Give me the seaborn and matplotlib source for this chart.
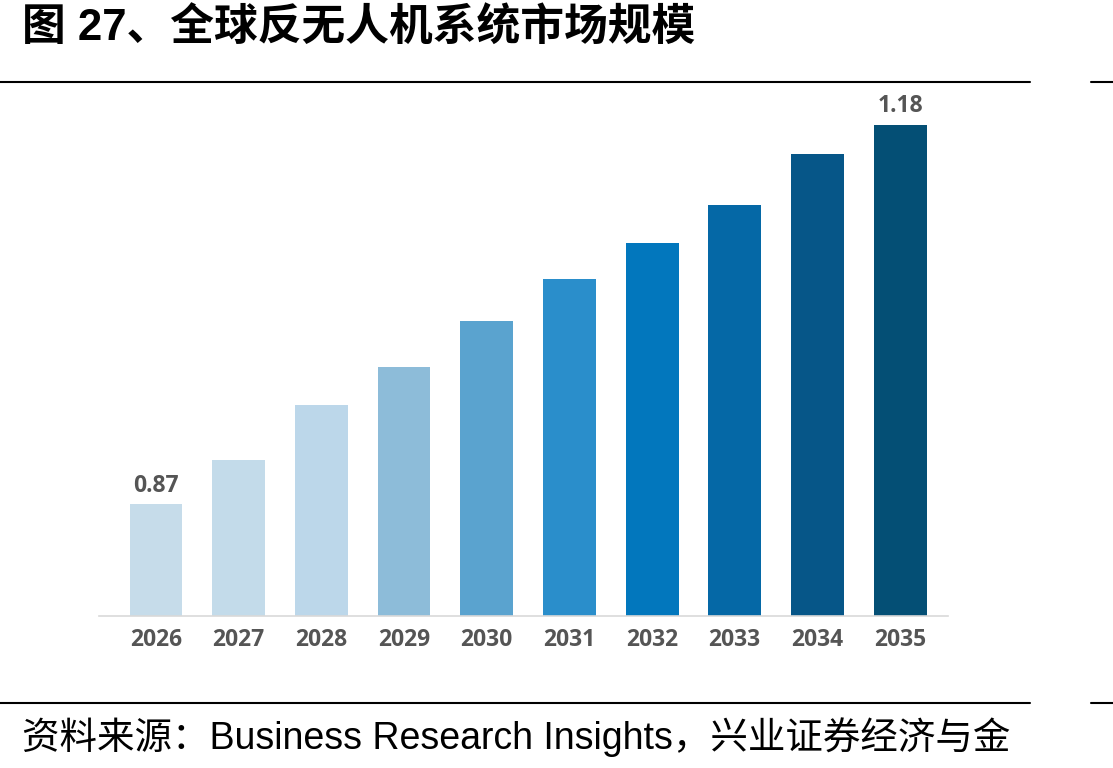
import matplotlib
matplotlib.use("Agg")
import matplotlib.pyplot as plt
from matplotlib.lines import Line2D
import seaborn as sns
import pandas as pd

years = ["2026", "2027", "2028", "2029", "2030", "2031", "2032", "2033", "2034", "2035"]
values = [0.87, 0.906, 0.951, 0.982, 1.02, 1.054, 1.083, 1.114, 1.156, 1.18]
bar_colors = ["#c6dcea", "#c3dbea", "#bcd7ea", "#8dbcd9", "#5aa3cf",
              "#2a8ecb", "#0277bd", "#0568a6", "#065688", "#044f75"]
labelled = {"2026": "0.87", "2035": "1.18"}
title_text = "图 27、全球反无人机系统市场规模"
source_text = "资料来源：Business Research Insights，兴业证券经济与金"

sns.set_style("white")
plt.rcParams["font.family"] = ["Noto Sans CJK SC", "DejaVu Sans"]

W, H = 1113, 768
fig = plt.figure(figsize=(W / 100, H / 100), dpi=100)

# axes in pixel geometry
left, right, top, bottom = 99, 948, 100, 616
ax = fig.add_axes([left / W, 1 - bottom / H, (right - left) / W, (bottom - top) / H])

df = pd.DataFrame({"year": years, "value": values})
sns.barplot(data=df, x="year", y="value", hue="year", palette=bar_colors,
            order=years, hue_order=years, width=0.64, legend=False,
            saturation=1, ax=ax, edgecolor="none")

ax.set_ylim(0.779, 1.2)
ax.set_xlim(-0.69, 9.58)
ax.set_xlabel("")
ax.set_ylabel("")
ax.set_yticks([])
for s in ["top", "left", "right"]:
    ax.spines[s].set_visible(False)
ax.spines["bottom"].set_color("#d9d9d9")
ax.spines["bottom"].set_linewidth(1.2)
ax.tick_params(axis="x", length=0, pad=9)
for lab in ax.get_xticklabels():
    lab.set_fontfamily(["Open Sans", "DejaVu Sans"])
    lab.set_fontweight("bold")
    lab.set_fontsize(16.5)
    lab.set_color("#555555")

for i, (y, v) in enumerate(zip(years, values)):
    if y in labelled:
        ax.annotate(labelled[y], (i, v), xytext=(0, 5), textcoords="offset points",
                    ha="center", va="bottom", fontsize=16.5, fontweight="bold",
                    color="#555555", family=["Open Sans", "DejaVu Sans"])

# title
fig.text(22 / W, 1 - 29 / H, title_text, ha="left", va="center",
         fontsize=31.5, fontweight="bold",
         family=["Liberation Sans", "Noto Sans CJK SC", "DejaVu Sans"], color="black")

# source
fig.text(22 / W, 1 - 737 / H, source_text, ha="left", va="center",
         fontsize=27, family=["Liberation Sans", "Noto Sans CJK SC", "DejaVu Sans"],
         color="black")

# frame lines
for ypx in (82, 703):
    yy = 1 - ypx / H
    fig.add_artist(Line2D([0, 1030 / W], [yy, yy], color="black", lw=1.5,
                          transform=fig.transFigure))
    fig.add_artist(Line2D([1091 / W, 1], [yy, yy], color="black", lw=1.5,
                          transform=fig.transFigure))

fig.savefig("out.png", dpi=100)
